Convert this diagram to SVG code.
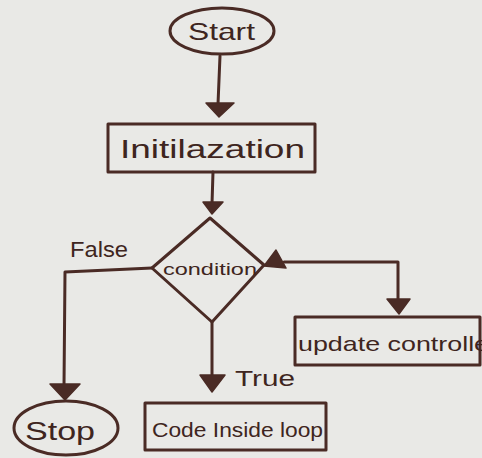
<svg xmlns="http://www.w3.org/2000/svg" width="482" height="458" viewBox="0 0 482 458">
  <style>
    .ink { fill: none; stroke: #4a2b25; stroke-width: 3; stroke-linecap: round; stroke-linejoin: round; }
    .head { fill: #4a2b25; stroke: #4a2b25; stroke-width: 1.5; stroke-linejoin: round; }
    .lbl { font-family: "Liberation Sans", "DejaVu Sans", sans-serif; fill: #3e2520; }
  </style>
  <!-- paper -->
  <rect x="0" y="0" width="482" height="458" fill="#e9e9e6"/>

  <!-- connectors -->
  <g id="connectors">
    <!-- Start -> Initialization -->
    <path class="ink" d="M220 56 L218 104"/>
    <polygon class="head" points="206,103 234,103 219,117"/>
    <!-- Initialization -> condition -->
    <path class="ink" d="M213 172 L212 204"/>
    <polygon class="head" points="203,202 223,202 212,214"/>
    <!-- False branch -> Stop -->
    <path class="ink" d="M152 268 L65 272 L64 386"/>
    <polygon class="head" points="50,384 80,384 65,400"/>
    <!-- True branch -> Code Inside loop -->
    <path class="ink" d="M212 322 L212 378"/>
    <polygon class="head" points="200,375 225,375 212,392"/>
    <!-- loop back / update controller -->
    <polygon class="head" points="264,266 276,250 286,268"/>
    <path class="ink" d="M284 262 L398 262 L398 302"/>
    <polygon class="head" points="387,299 410,299 399,314"/>
  </g>

  <g id="start">
    <ellipse class="ink" cx="222" cy="31" rx="52" ry="23"/>
    <text class="lbl" x="188" y="40" font-size="24" textLength="67" lengthAdjust="spacingAndGlyphs">Start</text>
  </g>

  <g id="initialization">
    <rect class="ink" x="108" y="124" width="207" height="48"/>
    <text class="lbl" x="120" y="158" font-size="26" textLength="185" lengthAdjust="spacingAndGlyphs">Initilazation</text>
  </g>

  <g id="condition">
    <polygon class="ink" points="210,218 264,265 212,322 152,268"/>
    <text class="lbl" x="163" y="275" font-size="17" textLength="94" lengthAdjust="spacingAndGlyphs">condition</text>
  </g>

  <g id="false-label">
    <text class="lbl" x="70" y="257" font-size="22" textLength="58" lengthAdjust="spacingAndGlyphs">False</text>
  </g>

  <g id="true-label">
    <text class="lbl" x="235" y="386" font-size="22" textLength="60" lengthAdjust="spacingAndGlyphs">True</text>
  </g>

  <g id="update">
    <rect class="ink" x="295" y="317" width="185" height="48"/>
    <text class="lbl" x="298" y="351" font-size="21" textLength="200" lengthAdjust="spacingAndGlyphs">update controller</text>
  </g>

  <g id="stop">
    <ellipse class="ink" cx="66" cy="428" rx="52" ry="27"/>
    <text class="lbl" x="25" y="440" font-size="26" textLength="70" lengthAdjust="spacingAndGlyphs">Stop</text>
  </g>

  <g id="code">
    <rect class="ink" x="145" y="403" width="181" height="47"/>
    <text class="lbl" x="152" y="437" font-size="20" textLength="171" lengthAdjust="spacingAndGlyphs">Code Inside loop</text>
  </g>
</svg>
